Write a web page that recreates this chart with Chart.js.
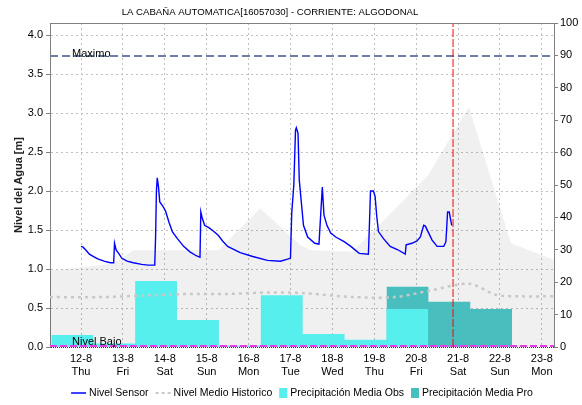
<!DOCTYPE html>
<html>
<head>
<meta charset="utf-8">
<script src="https://cdn.jsdelivr.net/npm/chart.js@4.4.1/dist/chart.umd.min.js"></script>
<style>
    html, body { margin: 0; padding: 0; background: #fff; }
</style>
</head>
<body>
<canvas id="levelChart" width="582" height="405"></canvas>
<script>
// Station
const STATION_TITLE = 'LA CABAÑA AUTOMATICA[16057030] - CORRIENTE: ALGODONAL';

// Time axis (day of month, August) and weekday labels
const MONTH = 8;
const DAY_TICKS = [12, 13, 14, 15, 16, 17, 18, 19, 20, 21, 22, 23];
const WEEKDAYS = ['Thu', 'Fri', 'Sat', 'Sun', 'Mon', 'Tue', 'Wed', 'Thu', 'Fri', 'Sat', 'Sun', 'Mon'];
const X_MIN = 11.26;
const X_MAX = 23.29;
const NOW_T = 20.88;

// Axis ticks
const LEVEL_TICKS = [0, 0.5, 1.0, 1.5, 2.0, 2.5, 3.0, 3.5, 4.0];
const LEVEL_MAX = 4.154;
const RAIN_TICKS = [0, 10, 20, 30, 40, 50, 60, 70, 80, 90, 100];

// Reference levels [m]
const NIVEL_MAXIMO = 3.73;
const NIVEL_BAJO = 0.01;

// Sensor level [m]
const SENSOR_T = [
    12.00, 12.05, 12.12, 12.20, 12.30, 12.40, 12.55, 12.70, 12.78, 12.80,
    12.84, 12.90, 12.97, 13.10, 13.25, 13.45, 13.60, 13.76, 13.78, 13.80,
    13.82, 13.85, 13.88, 13.96, 14.02, 14.10, 14.18, 14.30, 14.45, 14.60,
    14.75, 14.84, 14.86, 14.89, 14.95, 15.05, 15.15, 15.28, 15.38, 15.50,
    15.80, 16.10, 16.45, 16.76, 16.95, 17.00, 17.03, 17.08, 17.12, 17.14,
    17.18, 17.21, 17.26, 17.31, 17.41, 17.58, 17.68, 17.76, 17.80, 17.87,
    17.96, 18.08, 18.28, 18.44, 18.64, 18.86, 18.88, 18.91, 18.98, 19.02,
    19.06, 19.10, 19.22, 19.38, 19.55, 19.74, 19.76, 19.90, 20.02, 20.10,
    20.18, 20.22, 20.30, 20.38, 20.50, 20.66, 20.71, 20.75, 20.79, 20.83,
    20.85
];
const SENSOR_LEVEL = [
    1.29, 1.28, 1.24, 1.19, 1.16, 1.13, 1.10, 1.08, 1.08, 1.33,
    1.24, 1.20, 1.14, 1.10, 1.08, 1.06, 1.05, 1.05, 1.40, 2.00,
    2.17, 2.05, 1.86, 1.80, 1.74, 1.60, 1.48, 1.39, 1.29, 1.22,
    1.17, 1.15, 1.73, 1.66, 1.56, 1.53, 1.49, 1.43, 1.36, 1.29,
    1.21, 1.16, 1.11, 1.10, 1.13, 1.14, 1.72, 2.08, 2.78, 2.81,
    2.74, 2.14, 1.85, 1.56, 1.41, 1.33, 1.32, 2.05, 1.69, 1.56,
    1.46, 1.41, 1.35, 1.29, 1.20, 1.19, 1.50, 2.00, 2.00, 1.93,
    1.67, 1.48, 1.39, 1.29, 1.25, 1.19, 1.31, 1.33, 1.36, 1.41,
    1.56, 1.55, 1.46, 1.37, 1.29, 1.29, 1.35, 1.73, 1.73, 1.61,
    1.56
];

// Historical envelope (max) [m]
const HIST_RANGE_T = [11.26, 12.00, 12.75, 13.00, 13.25, 15.28, 16.28, 16.76, 17.25, 17.50, 18.48, 20.28, 21.26, 22.26, 23.29];
const HIST_RANGE_MAX = [0.98, 1.02, 1.07, 1.15, 1.24, 1.24, 1.78, 1.54, 1.30, 1.24, 1.22, 2.20, 3.08, 1.33, 1.12];

// Historical mean level [m]
const HIST_MEAN_T = [11.26, 12.50, 13.50, 14.50, 15.50, 16.50, 17.30, 18.50, 19.50, 20.30, 21.27, 21.90, 22.50, 23.29];
const HIST_MEAN = [0.64, 0.64, 0.66, 0.68, 0.68, 0.70, 0.69, 0.64, 0.64, 0.72, 0.81, 0.67, 0.65, 0.65];

// Daily precipitation [mm], pluviometric day starting at 07:00
const RAIN_DAY_HOUR = 7;
const RAIN_OBS_DAYS = [11, 12, 13, 14, 15, 16, 17, 18, 19];
const RAIN_OBS = [3.7, 1.1, 20.4, 8.3, 0.5, 16.0, 4.0, 2.2, 11.7];
const RAIN_PRO_DAYS = [19, 20, 21];
const RAIN_PRO = [18.6, 14.0, 11.7];

// Colors
const COLORS = {
    sensor: '#0000ff',
    histMean: '#c8c8c8',
    histRange: 'rgba(0, 0, 0, 0.06)',
    rainObs: '#57eeee',
    rainPro: '#49bebe',
    maximo: '#6f7ea8',
    bajo: '#e23ee6',
    now: '#ff0000',
    grid: '#c0c0c0',
    axis: '#808080'
};
const FONT_FAMILY = '"Liberation Sans", Arial, sans-serif';

// Build step points for daily bars (value holds until next day start)
function rainSteps(days, values) {
    const off = RAIN_DAY_HOUR / 24;
    const pts = days.map((d, i) => ({ x: d + off, y: values[i] }));
    const lastDay = days[days.length - 1] + 1 + off;
    pts.push({ x: lastDay, y: 0 });
    return pts;
}

function toPoints(xs, ys) {
    return xs.map((x, i) => ({ x: x, y: ys[i] }));
}

// Chart title, reference level labels and legend
const decorPlugin = {
    id: 'decor',
    afterDraw(chart) {
        const ctx = chart.ctx;
        const area = chart.chartArea;
        const yScale = chart.scales.y;

        ctx.save();
        // top frame line
        ctx.strokeStyle = COLORS.axis;
        ctx.lineWidth = 1;
        ctx.beginPath();
        ctx.moveTo(area.left, area.top + 0.5);
        ctx.lineTo(area.right, area.top + 0.5);
        ctx.stroke();

        // title
        ctx.fillStyle = '#000';
        ctx.font = '9.6px ' + FONT_FAMILY;
        ctx.textAlign = 'center';
        ctx.textBaseline = 'middle';
        ctx.fillText(STATION_TITLE, 270, 12);

        // level labels
        ctx.font = '11px ' + FONT_FAMILY;
        ctx.textAlign = 'left';
        ctx.textBaseline = 'alphabetic';
        ctx.fillText('Maximo', area.left + 22, yScale.getPixelForValue(NIVEL_MAXIMO) + 1);
        ctx.fillText('Nivel Bajo', area.left + 22, yScale.getPixelForValue(NIVEL_BAJO) - 1);

        // legend
        ctx.font = '10.5px ' + FONT_FAMILY;
        const items = [
            { text: 'Nivel Sensor', kind: 'line', color: COLORS.sensor },
            { text: 'Nivel Medio Historico', kind: 'dash', color: COLORS.histMean },
            { text: 'Precipitación Media Obs', kind: 'box', color: COLORS.rainObs },
            { text: 'Precipitación Media Pro', kind: 'box', color: COLORS.rainPro }
        ];
        const swatchW = it => it.kind === 'box' ? 8 : 15;
        const gap = 3, itemGap = 7;
        let total = 0;
        items.forEach((it, i) => {
            it.w = swatchW(it) + gap + ctx.measureText(it.text).width;
            total += it.w + (i ? itemGap : 0);
        });
        let x = (area.left + area.right) / 2 - total / 2;
        const ly = 393;
        ctx.textBaseline = 'middle';
        items.forEach(it => {
            const sw = swatchW(it);
            if (it.kind === 'box') {
                ctx.fillStyle = it.color;
                ctx.fillRect(x, ly - 5, sw, 10);
            } else {
                ctx.strokeStyle = it.color;
                ctx.lineWidth = it.kind === 'dash' ? 2 : 1.5;
                ctx.setLineDash(it.kind === 'dash' ? [3, 3] : []);
                ctx.beginPath();
                ctx.moveTo(x, ly);
                ctx.lineTo(x + sw, ly);
                ctx.stroke();
                ctx.setLineDash([]);
            }
            ctx.fillStyle = '#000';
            ctx.fillText(it.text, x + sw + gap, ly);
            x += it.w + itemGap;
        });
        ctx.restore();
    }
};

const tickFont = { family: FONT_FAMILY, size: 11 };

new Chart(document.getElementById('levelChart'), {
    type: 'line',
    data: {
        datasets: [
            {
                label: 'Nivel Sensor',
                data: toPoints(SENSOR_T, SENSOR_LEVEL),
                borderColor: COLORS.sensor,
                borderWidth: 1.4,
                yAxisID: 'y',
                order: 0
            },
            {
                label: 'Ahora',
                data: [{ x: NOW_T, y: 0 }, { x: NOW_T, y: LEVEL_MAX }],
                borderColor: COLORS.now,
                borderWidth: 1,
                borderDash: [8, 2],
                yAxisID: 'y',
                order: 1
            },
            {
                label: 'Maximo',
                data: [{ x: X_MIN, y: NIVEL_MAXIMO }, { x: X_MAX, y: NIVEL_MAXIMO }],
                borderColor: COLORS.maximo,
                borderWidth: 2,
                borderDash: [8, 4],
                yAxisID: 'y',
                order: 2
            },
            {
                label: 'Nivel Bajo',
                data: [{ x: X_MIN, y: NIVEL_BAJO }, { x: X_MAX, y: NIVEL_BAJO }],
                borderColor: COLORS.bajo,
                borderWidth: 2.5,
                borderDash: [7, 3],
                yAxisID: 'y',
                order: 3
            },
            {
                label: 'Nivel Medio Historico',
                data: toPoints(HIST_MEAN_T, HIST_MEAN),
                borderColor: COLORS.histMean,
                borderWidth: 2.5,
                borderDash: [3, 4],
                tension: 0.3,
                yAxisID: 'y',
                order: 4
            },
            {
                label: 'Precipitación Media Obs',
                data: rainSteps(RAIN_OBS_DAYS, RAIN_OBS),
                stepped: true,
                fill: 'origin',
                backgroundColor: COLORS.rainObs,
                borderWidth: 0,
                yAxisID: 'y2',
                order: 5
            },
            {
                label: 'Precipitación Media Pro',
                data: rainSteps(RAIN_PRO_DAYS, RAIN_PRO),
                stepped: true,
                fill: 'origin',
                backgroundColor: COLORS.rainPro,
                borderWidth: 0,
                yAxisID: 'y2',
                order: 6
            },
            {
                label: 'Rango Historico',
                data: toPoints(HIST_RANGE_T, HIST_RANGE_MAX),
                fill: 'origin',
                backgroundColor: COLORS.histRange,
                borderWidth: 0,
                yAxisID: 'y',
                order: 7
            }
        ]
    },
    options: {
        responsive: false,
        animation: false,
        events: [],
        layout: { padding: { top: 23, left: 0, right: 0, bottom: 0 } },
        elements: { point: { radius: 0 }, line: { tension: 0 } },
        plugins: {
            legend: { display: false },
            tooltip: { enabled: false }
        },
        scales: {
            x: {
                type: 'linear',
                min: X_MIN,
                max: X_MAX,
                afterBuildTicks: s => { s.ticks = DAY_TICKS.map(v => ({ value: v })); },
                afterFit: s => { s.height = 58; },
                grid: { color: COLORS.grid, drawTicks: false },
                border: { display: false, dash: [2, 3] },
                ticks: {
                    color: '#000',
                    font: tickFont,
                    padding: 5,
                    maxRotation: 0,
                    autoSkip: false,
                    callback: (v, i) => [DAY_TICKS[i] + '-' + MONTH, WEEKDAYS[i]]
                }
            },
            y: {
                position: 'left',
                min: 0,
                max: LEVEL_MAX,
                afterBuildTicks: s => { s.ticks = LEVEL_TICKS.map(v => ({ value: v })); },
                afterFit: s => { s.width = 50; },
                grid: {
                    color: c => (c.tick && c.tick.value === 0) ? '#333' : COLORS.grid,
                    tickColor: COLORS.axis,
                    tickLength: 4
                },
                border: {
                    color: COLORS.axis,
                    dash: c => (c.tick && c.tick.value === 0) ? [1, 1] : [2, 3]
                },
                ticks: {
                    color: '#000',
                    font: tickFont,
                    padding: 3,
                    callback: v => v.toFixed(1)
                },
                title: {
                    display: true,
                    text: 'Nivel del Agua [m]',
                    color: '#222',
                    font: { family: FONT_FAMILY, size: 11, weight: 'bold' },
                    padding: { top: 12, bottom: 0 }
                }
            },
            y2: {
                position: 'right',
                min: 0,
                max: 100,
                afterBuildTicks: s => { s.ticks = RAIN_TICKS.map(v => ({ value: v })); },
                afterFit: s => { s.width = 28; },
                grid: { drawOnChartArea: false, tickColor: COLORS.axis, tickLength: 4 },
                border: { color: COLORS.axis },
                ticks: { color: '#000', font: tickFont, padding: 2 }
            }
        }
    },
    plugins: [decorPlugin]
});
</script>
</body>
</html>
